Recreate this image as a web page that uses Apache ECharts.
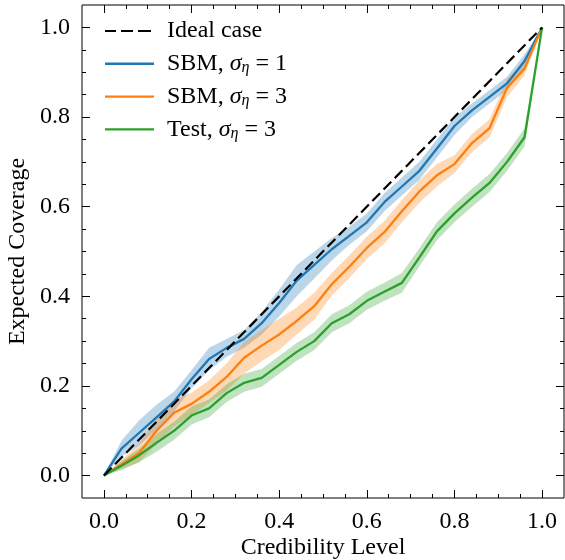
<!DOCTYPE html>
<html>
<head>
<meta charset="utf-8">
<script src="https://cdn.jsdelivr.net/npm/echarts@6/dist/echarts.min.js"></script>
<style>html,body{margin:0;padding:0;background:#fff;}#c{width:565px;height:560px;}</style>
</head>
<body>
<div id="c"></div>
<script>
// Data
const credLevels = [0,0.04,0.08,0.12,0.16,0.20,0.24,0.28,0.32,0.36,0.40,0.44,0.48,0.52,0.56,0.60,0.64,0.68,0.72,0.76,0.80,0.84,0.88,0.92,0.96,1.00];
const sbm1Mean = [0,0.06,0.095,0.13,0.165,0.215,0.26,0.285,0.305,0.34,0.385,0.435,0.47,0.505,0.535,0.565,0.61,0.645,0.68,0.73,0.78,0.815,0.845,0.875,0.925,1.0];
const sbm1Half = [0,0.018,0.028,0.028,0.022,0.02,0.025,0.02,0.02,0.025,0.03,0.035,0.03,0.025,0.02,0.02,0.02,0.02,0.02,0.02,0.02,0.015,0.015,0.015,0.015,0];
const sbm3Mean = [0,0.025,0.05,0.10,0.14,0.16,0.187,0.22,0.263,0.29,0.315,0.345,0.378,0.427,0.466,0.508,0.543,0.59,0.634,0.67,0.695,0.742,0.775,0.865,0.908,1.0];
const sbm3Half = [0,0.01,0.02,0.03,0.03,0.025,0.025,0.03,0.035,0.035,0.035,0.03,0.03,0.025,0.025,0.025,0.025,0.025,0.025,0.025,0.02,0.02,0.02,0.02,0.015,0];
const testMean = [0,0.022,0.045,0.073,0.10,0.134,0.15,0.184,0.207,0.218,0.247,0.276,0.30,0.34,0.36,0.39,0.41,0.43,0.487,0.545,0.585,0.62,0.653,0.70,0.755,1.0];
const testHalf = [0,0.01,0.015,0.02,0.02,0.02,0.02,0.02,0.02,0.02,0.02,0.02,0.02,0.02,0.02,0.02,0.02,0.022,0.02,0.02,0.02,0.02,0.02,0.02,0.02,0];
const idealX = [0,1];
const idealY = [0,1];
const majorTicks = [0,0.2,0.4,0.6,0.8,1.0];
const minorTicks = [0.05,0.1,0.15,0.25,0.3,0.35,0.45,0.5,0.55,0.65,0.7,0.75,0.85,0.9,0.95];
const legendNames = ['Ideal case','SBM, σ_η = 1','SBM, σ_η = 3','Test, σ_η = 3'];

const FONT = 'Liberation Serif';
const colors = {blue:'#1f77b4', orange:'#ff7f0e', green:'#2ca02c'};
const DASHED_ICON = 'path://M0,0H11V2H0Z M16,0H28V2H16Z M33,0H46V2H33Z M49,0H49.01V2H49Z';

function pairs(xs, ys){ return xs.map((x,i)=>[x, ys[i]]); }

function bandSeries(mean, half, fill){
  return {
    type:'custom', xAxisIndex:0, yAxisIndex:0, silent:true, clip:true, z:1,
    data:[[0,0]],
    renderItem:function(params, api){
      const up = [], lo = [];
      for (let i=0;i<credLevels.length;i++){
        up.push(api.coord([credLevels[i], mean[i]+half[i]]));
        lo.push(api.coord([credLevels[i], mean[i]-half[i]]));
      }
      const pts = up.concat(lo.reverse());
      return {type:'polygon', shape:{points:pts}, style:{fill:fill, stroke:null}};
    }
  };
}

function lineSeries(name, xs, ys, color, dashed, z){
  return {
    name:name, type:'line', xAxisIndex:0, yAxisIndex:0, data:pairs(xs, ys),
    symbol:'none', showSymbol:false, z:z, animation:false,
    lineStyle:{color:color, width: dashed ? 2.2 : 2.3, type: dashed ? [11,5] : 'solid'},
    itemStyle:{color:color}
  };
}

function mkX(pos, vals, len, labels){
  return {
    type:'value', min:-0.05, max:1.05, position:pos,
    axisLine:{show:false, onZero:false}, splitLine:{show:false},
    axisTick:{show:true, inside:true, length:len, customValues:vals, lineStyle:{color:'#000', width:1}},
    axisLabel:labels ? {show:true, customValues:majorTicks, margin:12, color:'#000', fontFamily:FONT, fontSize:24,
      formatter:(v)=>v.toFixed(1)} : {show:false},
    name: labels ? 'Credibility Level' : '', nameLocation:'middle', nameGap:38, nameMoveOverlap:false,
    nameTextStyle:{color:'#000', fontFamily:FONT, fontSize:24}
  };
}
function mkY(pos, vals, len, labels){
  return {
    type:'value', min:-0.05, max:1.05, position:pos,
    axisLine:{show:false, onZero:false}, splitLine:{show:false},
    axisTick:{show:true, inside:true, length:len, customValues:vals, lineStyle:{color:'#000', width:1}},
    axisLabel:labels ? {show:true, customValues:majorTicks, margin:12, color:'#000', fontFamily:FONT, fontSize:24,
      formatter:(v)=>v.toFixed(1)} : {show:false},
    name: labels ? 'Expected Coverage' : '', nameLocation:'middle', nameGap:52, nameRotate:90, nameMoveOverlap:false,
    nameTextStyle:{color:'#000', fontFamily:FONT, fontSize:24}
  };
}

const rich = {
  n:{fontFamily:FONT, fontSize:24, color:'#000', lineHeight:24},
  i:{fontFamily:FONT, fontSize:24, fontStyle:'italic', color:'#000', lineHeight:24},
  s:{fontFamily:FONT, fontSize:16, fontStyle:'italic', color:'#000', lineHeight:10, verticalAlign:'bottom'}
};
function legendFmt(name){
  const m = name.match(/^(.*)σ_η(.*)$/);
  if (!m) return '{n|' + name + '}';
  return '{n|' + m[1] + '}{i|σ}{s|η}{n|' + m[2] + '}';
}

const chart = echarts.init(document.getElementById('c'), null, {renderer:'canvas'});
chart.setOption({
  animation:false,
  backgroundColor:'#fff',
  grid:{left:82, right:1, top:5, bottom:62, show:true, borderColor:'#000', borderWidth:1, backgroundColor:'transparent', outerBoundsMode:'none'},
  legend:{
    data:[
      {name:legendNames[0], icon:DASHED_ICON},
      {name:legendNames[1], icon:'rect'},
      {name:legendNames[2], icon:'rect'},
      {name:legendNames[3], icon:'rect'}
    ],
    orient:'vertical', left:100, top:14, itemWidth:49, itemHeight:2.4, itemGap:8.8,
    formatter:legendFmt, textStyle:{rich:rich, padding:[0,0,0,8]}, selectedMode:false
  },
  xAxis:[mkX('bottom', majorTicks, 8, true), mkX('bottom', minorTicks, 4, false), mkX('top', majorTicks, 8, false), mkX('top', minorTicks, 4, false)],
  yAxis:[mkY('left', majorTicks, 8, true), mkY('left', minorTicks, 4, false), mkY('right', majorTicks, 8, false), mkY('right', minorTicks, 4, false)],
  series:[
    bandSeries(sbm1Mean, sbm1Half, 'rgba(31,119,180,0.3)'),
    bandSeries(sbm3Mean, sbm3Half, 'rgba(255,127,14,0.3)'),
    bandSeries(testMean, testHalf, 'rgba(44,160,44,0.3)'),
    lineSeries(legendNames[0], idealX, idealY, '#000', true, 5),
    lineSeries(legendNames[1], credLevels, sbm1Mean, colors.blue, false, 4),
    lineSeries(legendNames[2], credLevels, sbm3Mean, colors.orange, false, 4),
    lineSeries(legendNames[3], credLevels, testMean, colors.green, false, 4)
  ]
});
</script>
</body>
</html>
